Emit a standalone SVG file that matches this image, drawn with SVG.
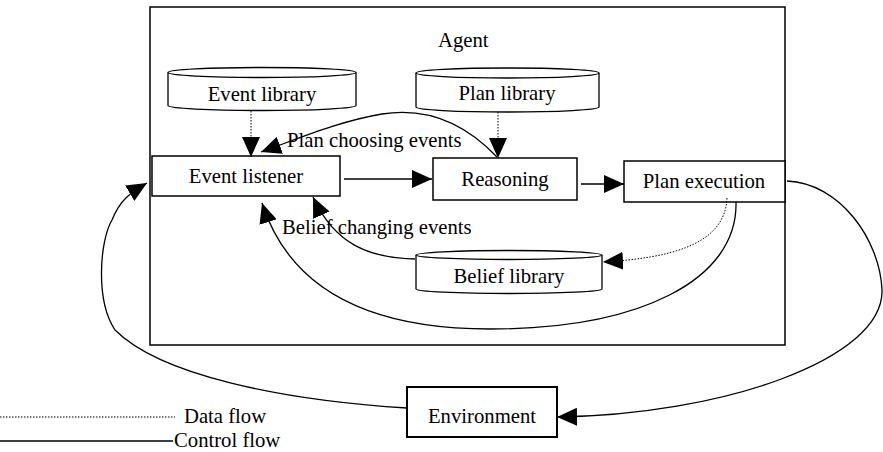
<svg xmlns="http://www.w3.org/2000/svg" width="883" height="452" viewBox="0 0 883 452">
<style>
text{font-family:"Liberation Serif","Times New Roman",serif;font-size:20.7px;fill:#000}
.box{fill:#fff;stroke:#000;stroke-width:1.5}
.cyl{fill:#fff;stroke:#000;stroke-width:1.3}
.c{fill:none;stroke:#000;stroke-width:1.3}
.d{fill:none;stroke:#000;stroke-width:1;stroke-dasharray:1.5 1.5}
.m{text-anchor:middle}
</style>
<defs>
<marker id="ah" markerUnits="userSpaceOnUse" viewBox="0 0 20 18" markerWidth="20" markerHeight="18" refX="20" refY="9" orient="auto">
<path d="M0,0 L20,9 L0,18 z" fill="#000"/>
</marker>
</defs>
<rect width="883" height="452" fill="#fff"/>
<g id="agent">
<rect x="150" y="7" width="635" height="338" fill="none" stroke="#000" stroke-width="1.5"/>
<text x="438" y="47">Agent</text>
</g>
<g id="event-library">
<path class="cyl" d="M168,72.5 V105.5 A94,5 0 0 0 356,105.5 V72.5"/>
<ellipse class="cyl" cx="262" cy="72.5" rx="94" ry="5"/>
<text class="m" x="262" y="101">Event library</text>
</g>
<g id="plan-library">
<path class="cyl" d="M416,73 V107 A91.5,5 0 0 0 599,107 V73"/>
<ellipse class="cyl" cx="507.5" cy="73" rx="91.5" ry="5"/>
<text class="m" x="507" y="100">Plan library</text>
</g>
<g id="belief-library">
<path class="cyl" d="M416,255 V289 A93,4.5 0 0 0 602,289 V255"/>
<ellipse class="cyl" cx="509" cy="255" rx="93" ry="4.5"/>
<text class="m" x="509" y="283">Belief library</text>
</g>
<g id="event-listener">
<rect class="box" x="152" y="156" width="188" height="40"/>
<text class="m" x="246" y="183">Event listener</text>
</g>
<g id="reasoning">
<rect class="box" x="433" y="158" width="144" height="42"/>
<text class="m" x="505" y="186">Reasoning</text>
</g>
<g id="plan-execution">
<rect class="box" x="624" y="161" width="161" height="41"/>
<text class="m" x="704" y="188">Plan execution</text>
</g>
<g id="environment">
<rect x="407" y="387" width="150" height="50" fill="#fff" stroke="#000" stroke-width="2"/>
<text class="m" x="482" y="423">Environment</text>
</g>
<g id="connectors">
<path class="d" d="M251,111 V157" marker-end="url(#ah)"/>
<path class="d" d="M498,112 V158" marker-end="url(#ah)"/>
<path class="c" d="M497,157 C460,118 420,108 382,114 C340,121 300,138 261,152" marker-end="url(#ah)"/>
<path class="c" d="M344,179 H432" marker-end="url(#ah)"/>
<path class="c" d="M581,184 H624" marker-end="url(#ah)"/>
<path class="d" d="M727,198 C725,245 670,258 603,262" marker-end="url(#ah)"/>
<path class="c" d="M736,202 C738,280 640,329 490,329 C370,329 290,290 262,203" marker-end="url(#ah)"/>
<path class="c" d="M415,259 C370,258 335,245 313,197" marker-end="url(#ah)"/>
<path class="c" d="M787,181 C840,183 880,240 882,290 C884,360 720,415 557,417" marker-end="url(#ah)"/>
<path class="c" d="M407,408 C280,400 160,375 115,330 C95,300 100,240 112,220 C120,200 130,193 147,183" marker-end="url(#ah)"/>
<text x="287" y="147">Plan choosing events</text>
<text x="282" y="234">Belief changing events</text>
</g>
<g id="legend">
<path class="d" d="M0,417 H175"/>
<text x="184" y="423">Data flow</text>
<path class="c" d="M0,441 H173"/>
<text x="174" y="447">Control flow</text>
</g>
</svg>
